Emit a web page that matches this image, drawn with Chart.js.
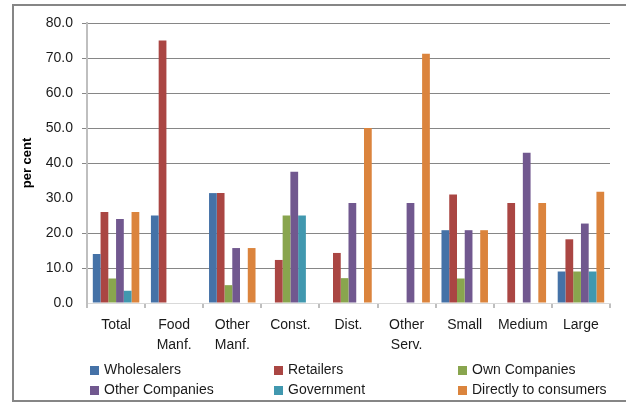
<!DOCTYPE html>
<html>
<head>
<meta charset="utf-8">
<script src="https://cdn.jsdelivr.net/npm/chart.js@4.4.0/dist/chart.umd.min.js"></script>
<style>
  body { margin: 0; background: #fff; }
  #wrap { position: relative; width: 626px; height: 402px; overflow: hidden; }
  #frame { position: absolute; left: 12px; top: 4px; width: 630px; height: 394px; border: 2px solid #868686; }
  canvas { position: absolute; left: 0; top: 0; }
  #legend { position: absolute; left: 0; top: 0; width: 626px; font-family: "Liberation Sans", Arial, sans-serif; font-size: 14px; color: #1a1a1a; }
  .item { position: absolute; white-space: nowrap; line-height: 16px; }
  .item span { display: inline-block; width: 9px; height: 9px; margin-right: 5px; vertical-align: -1px; }
</style>
</head>
<body>
<div id="wrap">
  <div id="frame"></div>
  <canvas id="chart" width="626" height="402"></canvas>
  <div id="legend"></div>
</div>
<script>
const categories = ["Total", ["Food", "Manf."], ["Other", "Manf."], "Const.", "Dist.", ["Other", "Serv."], "Small", "Medium", "Large"];

const wholesalers      = [14.0, 25.0, 31.4, null, null, null, 20.8, null, 9.0];
const retailers        = [26.0, 75.0, 31.4, 12.3, 14.3, null, 31.0, 28.6, 18.2];
const ownCompanies     = [7.0, null, 5.1, 25.0, 7.1, null, 7.0, null, 9.0];
const otherCompanies   = [24.0, null, 15.7, 37.5, 28.6, 28.6, 20.8, 42.9, 22.7];
const government       = [3.5, null, null, 25.0, null, null, null, null, 9.0];
const directToConsumer = [26.0, null, 15.7, null, 50.0, 71.2, 20.8, 28.6, 31.8];

const yTicks = [0, 10, 20, 30, 40, 50, 60, 70, 80];
// gridlines left out of the plot area
const hiddenLines = [0, 30];

const series = [
    { label: "Wholesalers", data: wholesalers, color: "#4572A7" },
    { label: "Retailers", data: retailers, color: "#AA4643" },
    { label: "Own Companies", data: ownCompanies, color: "#89A54E" },
    { label: "Other Companies", data: otherCompanies, color: "#71588F" },
    { label: "Government", data: government, color: "#4198AF" },
    { label: "Directly to consumers", data: directToConsumer, color: "#DB843D" }
];

const font = { family: "'Liberation Sans', Arial, sans-serif", size: 14 };

const chart = new Chart(document.getElementById("chart"), {
    type: "bar",
    data: {
        labels: categories,
        datasets: series.map(s => ({
            label: s.label,
            data: s.data,
            backgroundColor: s.color,
            borderWidth: 0,
            categoryPercentage: 0.8,
            barPercentage: 1.0
        }))
    },
    options: {
        responsive: false,
        animation: false,
        layout: { padding: { left: 0, top: 23, right: 16, bottom: 50 } },
        plugins: { legend: { display: false }, tooltip: { enabled: false } },
        scales: {
            x: {
                afterFit: scale => { scale.height = 49; },
                grid: { drawOnChartArea: false, drawTicks: true, tickLength: 5, color: "#bfbfbf", lineWidth: 2 },
                border: { color: "#d9d9d9", width: 1 },
                ticks: { color: "#1a1a1a", font: Object.assign({ lineHeight: 1.43 }, font), padding: 7, maxRotation: 0, autoSkip: false }
            },
            y: {
                min: 0,
                max: 80,
                afterFit: scale => { scale.width = 87; },
                afterBuildTicks: scale => { scale.ticks = yTicks.map(v => ({ value: v })); },
                grid: {
                    color: ctx => hiddenLines.includes(yTicks[ctx.index]) ? "rgba(255,255,255,0)" : "#868686",
                    lineWidth: 1,
                    tickLength: 5
                },
                border: { color: "#bfbfbf", width: 2 },
                ticks: { color: "#1a1a1a", font: font, padding: 9, callback: v => v.toFixed(1) },
                title: {
                    display: true,
                    text: "per cent",
                    color: "#000",
                    font: { family: font.family, size: 13, weight: "bold" },
                    padding: { top: 20, bottom: 0 }
                }
            }
        }
    }
});

// legend laid out in three fixed columns under the plot
const legend = document.getElementById("legend");
const colX = [90, 274, 458];
const rowY = [361, 381];
chart.data.datasets.forEach((ds, i) => {
    const item = document.createElement("div");
    item.className = "item";
    item.style.left = colX[i % 3] + "px";
    item.style.top = rowY[Math.floor(i / 3)] + "px";
    const box = document.createElement("span");
    box.style.background = ds.backgroundColor;
    item.appendChild(box);
    item.appendChild(document.createTextNode(ds.label));
    legend.appendChild(item);
});
</script>
</body>
</html>
